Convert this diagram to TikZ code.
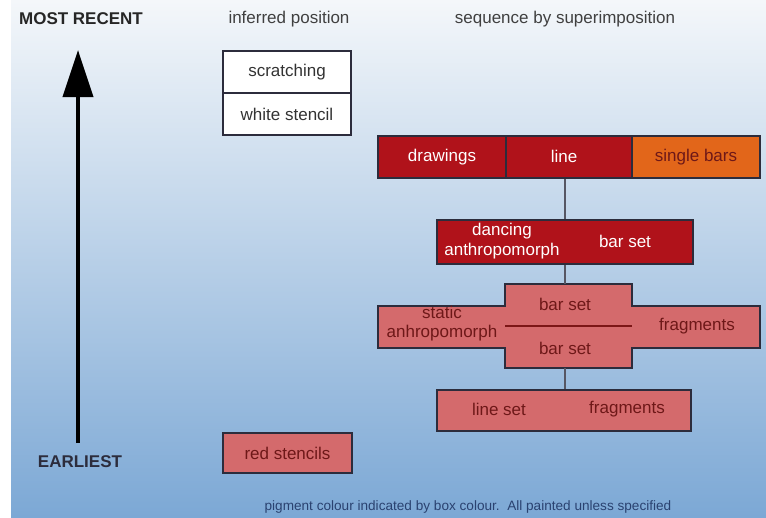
\documentclass[tikz,border=0pt]{standalone}
\usepackage{fontspec}
\setmainfont{Liberation Sans}
\usetikzlibrary{arrows.meta}
\definecolor{skytop}{HTML}{F4F7FA}
\definecolor{skybottom}{HTML}{7CA8D5}
\definecolor{darkred}{HTML}{B0121A}
\definecolor{ochre}{HTML}{E2661A}
\definecolor{salmon}{HTML}{D46A6C}
\definecolor{edgecol}{HTML}{2C2C3C}
\definecolor{maroon}{HTML}{6E1818}
\definecolor{navytext}{HTML}{2A4270}
\newcommand{\boxfont}{\fontsize{17}{20}\selectfont}
\tikzset{
  cell/.style={draw=edgecol, line width=1.6pt, inner sep=0pt,
    minimum height=42pt, font=\boxfont, text=black!80},
  darkcell/.style={cell, fill=darkred, text=white},
  orangecell/.style={cell, fill=ochre, text=maroon},
  lightcell/.style={cell, fill=salmon, text=maroon},
  heading/.style={font=\boxfont, text=black!75},
  linker/.style={draw=edgecol!80, line width=1.4pt}
}
\begin{document}
\begin{tikzpicture}[x=1pt,y=-1pt]
  \useasboundingbox (0,0) rectangle (766,517);
  % background
  \fill[white] (0,0) rectangle (766,517);
  \shade[top color=skytop, bottom color=skybottom] (11,0) rectangle (766,517);

  % time axis
  \node[font=\fontsize{17}{20}\selectfont\bfseries, text=black!85] (recent) at (81,19) {MOST RECENT};
  \node[font=\fontsize{17}{20}\selectfont\bfseries, text=edgecol] (earliest) at (80,462) {EARLIEST};
  \coordinate (tail) at (78,443);
  \coordinate (tip) at (78,50);
  \draw[line width=4pt, -{Triangle[length=47pt,width=30pt]}] (tail) -- (tip);

  % column headings
  \node[heading] (inferred) at (289,19) {inferred position};
  \node[heading] (sequence) at (565,19) {sequence by superimposition};

  % inferred position
  \node[cell, fill=white, minimum width=128pt] (scratch) at (287,72) {scratching};
  \node[cell, fill=white, minimum width=128pt] (wstencil) at (287,114) {white stencil};
  \node[lightcell, minimum width=129pt, minimum height=40pt] (rstencil) at (287.5,453) {red stencils};

  % top row
  \node[darkcell, minimum width=128pt] (drawings) at (442,157) {drawings};
  \node[darkcell, minimum width=127pt] (line) at (569.5,157) {};
  \node[font=\boxfont, text=white] (linetxt) at (564,156) {line};
  \node[orangecell, minimum width=128pt] (bars) at (696,157) {single bars};

  % dancing anthropomorph
  \node[darkcell, minimum width=256pt, minimum height=44pt] (dance) at (565,242) {};
  \node[font=\fontsize{17}{20}\selectfont, text=white, align=center, inner sep=0pt] (dancetxt) at (502,241) {dancing\\anthropomorph};
  \node[font=\boxfont, text=white] (danceset) at (625,241) {bar set};

  % static anthropomorph cross
  \coordinate (crosstop) at (565,284);
  \coordinate (crossbot) at (565,368);
  \draw[fill=salmon, draw=edgecol, line width=1.6pt]
    (505,284) -- (632,284) -- (632,306) -- (760,306) -- (760,348) -- (632,348)
    -- (632,368) -- (505,368) -- (505,348) -- (378,348) -- (378,306) -- (505,306) -- cycle;
  \draw[maroon!90!red, line width=2.6pt] (505,326) -- (632,326);
  \node[font=\boxfont, text=maroon] (upperset) at (565,304) {bar set};
  \node[font=\boxfont, text=maroon] (lowerset) at (565,348) {bar set};
  \node[font=\fontsize{17}{19}\selectfont, text=maroon, align=center, inner sep=0pt] (statictxt) at (442,324) {static\\anhropomorph};
  \node[font=\boxfont, text=maroon] (crossfrag) at (697,326) {fragments};

  % line set
  \node[lightcell, minimum width=254pt, minimum height=41pt] (lineset) at (564,410.5) {};
  \node[font=\boxfont, text=maroon] (linesettxt) at (499,409) {line set};
  \node[font=\boxfont, text=maroon] (linefrag) at (627,409) {fragments};

  % sequence connectors
  \draw[linker] (dance.north |- line.south) -- (dance.north);
  \draw[linker] (dance.south) -- (crosstop);
  \draw[linker] (crossbot) -- (lineset.north -| crossbot);

  % footnote
  \node[font=\fontsize{13.6}{15}\selectfont, text=navytext] (note) at (468,507)
    {pigment colour indicated by box colour.\ \ All painted unless specified};
\end{tikzpicture}
\end{document}
